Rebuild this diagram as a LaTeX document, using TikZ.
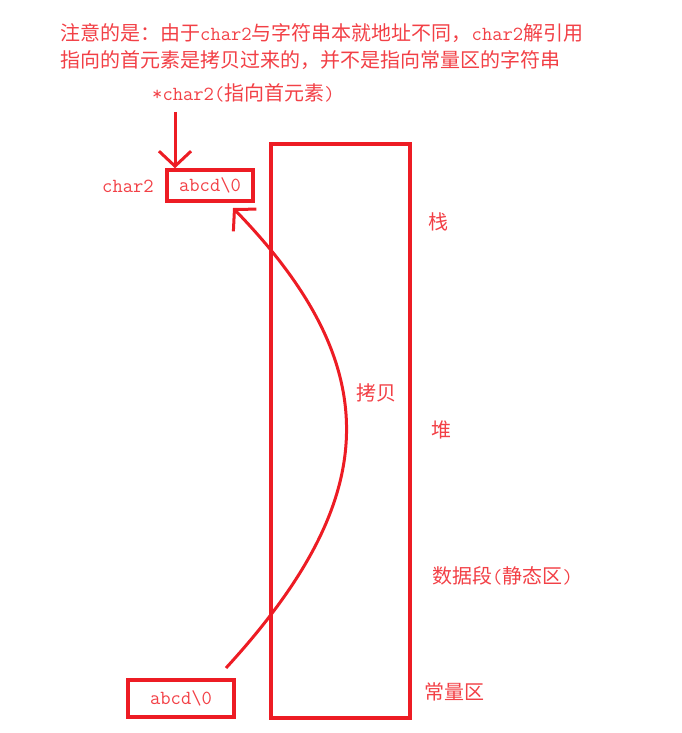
\documentclass[tikz,border=0pt]{standalone}
\usepackage{fontspec}
\setmainfont{Noto Sans CJK SC}
\usetikzlibrary{arrows.meta}
\definecolor{lred}{RGB}{237,28,36}
\definecolor{tred}{RGB}{242,64,70}
\newcommand{\lt}[1]{{\ttfamily #1}}
\tikzset{
  lbl/.style={text=tred, inner sep=0pt, anchor=west, font=\fontsize{20}{24}\selectfont},
  box/.style={draw=lred, line width=3.5pt, text=tred, inner sep=0pt, font=\fontsize{20}{24}\selectfont},
  conn/.style={draw=lred, line width=3pt, -{Straight Barb[length=15pt,width=32pt,line width=3pt]}}
}
\begin{document}
\begin{tikzpicture}[x=1pt,y=-1pt]
\useasboundingbox (0,0) rectangle (682,733);
\node[lbl] (n1) at (60,33) {注意的是：由于\lt{char2}与字符串本就地址不同，\lt{char2}解引用};
\node[lbl] (n2) at (60,60) {指向的首元素是拷贝过来的，并不是指向常量区的字符串};
\node[lbl] (deref) at (152,93) {\lt{*char2(}指向首元素\lt{)}};
\node[lbl] (c2) at (102,186) {\lt{char2}};
\node[box, minimum width=86pt, minimum height=31pt] (top) at (210,185.5) {\lt{abcd\textbackslash 0}};
\node[box, minimum width=106pt, minimum height=37pt] (bot) at (181,698.5) {\lt{abcd\textbackslash 0}};
\node[draw=lred, line width=4pt, minimum width=139pt, minimum height=574pt, inner sep=0pt] (mem) at (340.5,431) {};
\node[lbl] (stack) at (428,222) {栈};
\node[lbl] (copy) at (356,393) {拷贝};
\node[lbl] (heap) at (431,430) {堆};
\node[lbl] (data) at (432,576) {数据段\lt{(}静态区\lt{)}};
\node[lbl] (const) at (424,692) {常量区};
\coordinate (astart) at (175,112);
\coordinate (cstart) at (226,668);
\coordinate (cend) at (233,208);
\draw[conn] (astart) -- (top.north -| astart);
\draw[conn] (cstart) .. controls (380,500) and (390,370) .. (cend);
\end{tikzpicture}
\end{document}
